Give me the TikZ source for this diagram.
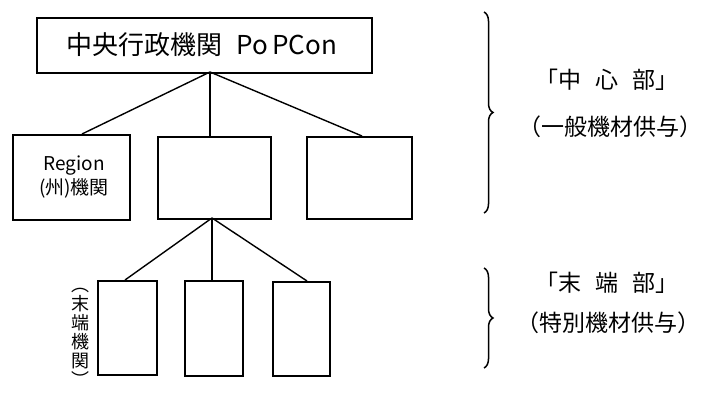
\documentclass[tikz,border=0pt]{standalone}
\usepackage{fontspec}
\newfontfamily\cjk{Noto Sans CJK JP}
\usetikzlibrary{decorations.pathreplacing}
\begin{document}
\begin{tikzpicture}[x=1pt,y=-1pt,
  box/.style={draw,line width=1.6pt,inner sep=0pt,anchor=north west},
  conn/.style={line width=1.4pt},
  lbl/.style={font=\cjk\fontsize{23}{27}\selectfont,inner sep=0pt},
  brc/.style={line width=1.5pt,decorate,decoration={brace,amplitude=9pt,aspect=0.5}}]
\useasboundingbox (0,0) rectangle (724,406);
% top
\node[box,minimum width=335pt,minimum height=55pt] (top) at (36,17) {};
\node[font=\cjk\fontsize{26}{30}\selectfont,inner sep=0pt] (toptext) at (202,45) {中央行政機関\hspace{14pt}Po\hspace{4pt}PCon};
% middle row
\node[box,minimum width=117pt,minimum height=85pt] (m1) at (12,134) {};
\node[box,minimum width=113pt,minimum height=82pt] (m2) at (157,136) {};
\node[box,minimum width=105pt,minimum height=82pt] (m3) at (306,136) {};
\node[font=\cjk\fontsize{19}{24}\selectfont,inner sep=0pt,align=center] (m1t) at (74,177) {Region\\(州)機関};
% bottom row
\node[box,minimum width=59pt,minimum height=94pt] (b1) at (97,280) {};
\node[box,minimum width=58pt,minimum height=95pt] (b2) at (184,280) {};
\node[box,minimum width=57pt,minimum height=94pt] (b3) at (272,281) {};
\node[font=\cjk\fontsize{18}{19}\selectfont,inner sep=0pt,align=center] (b1t) at (80,337) {︵\\末\\端\\機\\関\\︶};
% connectors top -> middle
\coordinate (tp) at (210,72);
\draw[conn] (tp) -- (m1.north west -| 82,0);
\draw[conn] (tp) -- (m2.north west -| 210,0);
\draw[conn] (tp) -- (m3.north west -| 362,0);
% connectors middle -> bottom
\coordinate (mp) at (212,218);
\draw[conn] (mp) -- (b1.north west -| 125,0);
\draw[conn] (mp) -- (b2.north west -| 212,0);
\draw[conn] (mp) -- (b3.north west -| 307,0);
% braces
\coordinate (br1a) at (484,12);
\coordinate (br1b) at (484,213);
\draw[brc] (br1a) -- (br1b);
\coordinate (br2a) at (484,268);
\coordinate (br2b) at (484,368);
\draw[brc] (br2a) -- (br2b);
\node[lbl] (c1) at (607,80) {「中\hspace{14pt}心\hspace{14pt}部」};
\node[lbl] (c2) at (610,127) {（一般機材供与）};
\node[lbl] (e1) at (607,283) {「末\hspace{14pt}端\hspace{14pt}部」};
\node[lbl] (e2) at (608,323) {（特別機材供与）};
\end{tikzpicture}
\end{document}
